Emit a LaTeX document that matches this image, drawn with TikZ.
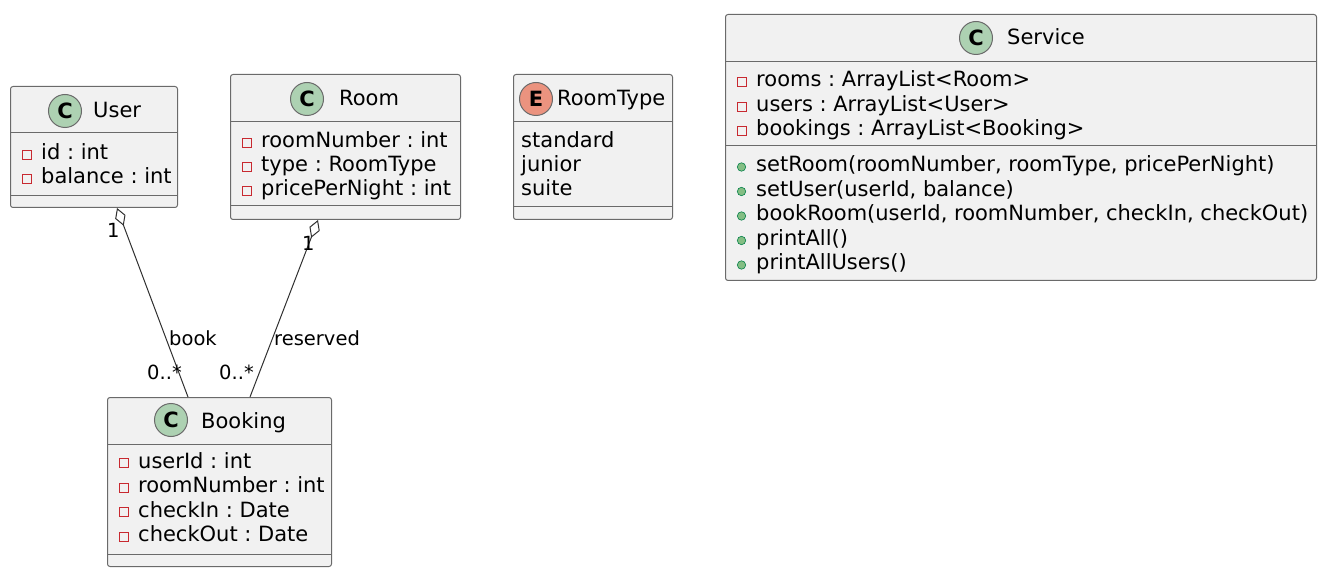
\documentclass[tikz,border=0pt]{standalone}
\usepackage{fontspec}
\setmainfont{DejaVu Sans}
\usetikzlibrary{arrows.meta,calc}
\definecolor{boxfill}{HTML}{F1F1F1}
\definecolor{boxline}{HTML}{6A6A6A}
\definecolor{connline}{HTML}{303030}
\definecolor{cgreen}{HTML}{ADD1B2}
\definecolor{eorange}{HTML}{EB937F}
\definecolor{privred}{HTML}{C82930}
\definecolor{pubgreen}{HTML}{84BE84}
\definecolor{publine}{HTML}{038048}
\frenchspacing
\newcommand\MemPriv[4]{%
  \draw[privred, line width=0.8pt] (#2+12,#3-9.5) rectangle (#2+21,#3-0.5);
  \node[mem] (#1) at (#2+31,#3) {#4};}
\newcommand\MemPub[4]{%
  \filldraw[fill=pubgreen, draw=publine, line width=0.6pt] (#2+16.5,#3-5) circle (4.2pt);
  \node[mem] (#1) at (#2+31,#3) {#4};}
\begin{document}
\begin{tikzpicture}[x=1pt,y=-1pt,
  classbox/.style={draw=boxline, fill=boxfill, line width=1pt, rounded corners=2.5pt, anchor=north west, inner sep=0},
  sep/.style={draw=boxline, line width=1pt},
  mem/.style={inner sep=0, anchor=base west, font=\fontsize{21}{24}\selectfont\frenchspacing},
  cname/.style={inner sep=0, anchor=base west, font=\fontsize{21}{24}\selectfont},
  lbl/.style={inner sep=0, anchor=base west, font=\fontsize{19.5}{22}\selectfont},
  badge/.style={circle, draw=boxline, line width=1pt, minimum size=33pt, inner sep=0, font=\fontsize{21}{21}\bfseries\selectfont},
  conn/.style={draw=connline, line width=1pt},
  agg/.style={conn, {Diamond[fill=white, length=19pt, width=11pt, line width=1pt]}-}
]
\useasboundingbox (0,0) rectangle (1330,585);

% ---------- User ----------
\node[classbox, minimum width=167pt, minimum height=121pt] (user) at (10,86) {};
\node[badge, fill=cgreen] (userC) at (65,111) {C};
\node[cname] (userN) at (93,118) {User};
\draw[sep] (user.west |- 0,133) -- (user.east |- 0,133);
\MemPriv{userA1}{10}{160}{id : int}
\MemPriv{userA2}{10}{184}{balance : int}
\draw[sep] (user.west |- 0,196) -- (user.east |- 0,196);

% ---------- Room ----------
\node[classbox, minimum width=230pt, minimum height=145pt] (room) at (230,74) {};
\node[badge, fill=cgreen] (roomC) at (307,99) {C};
\node[cname] (roomN) at (339,106) {Room};
\draw[sep] (room.west |- 0,122) -- (room.east |- 0,122);
\MemPriv{roomA1}{230}{147.5}{roomNumber : int}
\MemPriv{roomA2}{230}{172}{type : RoomType}
\MemPriv{roomA3}{230}{196}{pricePerNight : int}
\draw[sep] (room.west |- 0,206) -- (room.east |- 0,206);

% ---------- RoomType ----------
\node[classbox, minimum width=159pt, minimum height=145pt] (rtype) at (513,74) {};
\node[badge, fill=eorange] (rtypeE) at (536,99) {E};
\node[cname] (rtypeN) at (557,106) {RoomType};
\draw[sep] (rtype.west |- 0,122) -- (rtype.east |- 0,122);
\node[mem] (rtypeV1) at (521,147.5) {standard};
\node[mem] (rtypeV2) at (521,172) {junior};
\node[mem] (rtypeV3) at (521,196) {suite};
\draw[sep] (rtype.west |- 0,207) -- (rtype.east |- 0,207);

% ---------- Booking ----------
\node[classbox, minimum width=224pt, minimum height=169pt] (booking) at (107,397) {};
\node[badge, fill=cgreen] (bookingC) at (171,420) {C};
\node[cname] (bookingN) at (201,428) {Booking};
\draw[sep] (booking.west |- 0,444) -- (booking.east |- 0,444);
\MemPriv{bookingA1}{107}{468}{userId : int}
\MemPriv{bookingA2}{107}{492.5}{roomNumber : int}
\MemPriv{bookingA3}{107}{517}{checkIn : Date}
\MemPriv{bookingA4}{107}{541.5}{checkOut : Date}
\draw[sep] (booking.west |- 0,554) -- (booking.east |- 0,554);

% ---------- Service ----------
\node[classbox, minimum width=591pt, minimum height=266pt] (service) at (725,14) {};
\node[badge, fill=cgreen] (serviceC) at (976,38) {C};
\node[cname] (serviceN) at (1007,45) {Service};
\draw[sep] (service.west |- 0,62) -- (service.east |- 0,62);
\MemPriv{serviceA1}{725}{87}{rooms : ArrayList<Room>}
\MemPriv{serviceA2}{725}{111.5}{users : ArrayList<User>}
\MemPriv{serviceA3}{725}{136}{bookings : ArrayList<Booking>}
\draw[sep] (service.west |- 0,146) -- (service.east |- 0,146);
\MemPub{serviceM1}{725}{172}{setRoom(roomNumber, roomType, pricePerNight)}
\MemPub{serviceM2}{725}{196.5}{setUser(userId, balance)}
\MemPub{serviceM3}{725}{221}{bookRoom(userId, roomNumber, checkIn, checkOut)}
\MemPub{serviceM4}{725}{245.5}{printAll()}
\MemPub{serviceM5}{725}{270}{printAllUsers()}

% ---------- Connectors ----------
\coordinate (uEnd) at ($(user.south west)+(107,0)$);
\coordinate (bEndU) at ($(booking.north west)+(81,0)$);
\coordinate (rEnd) at ($(room.south west)+(88,0)$);
\coordinate (bEndR) at ($(booking.north west)+(143,0)$);
\draw[agg] (uEnd) -- (bEndU);
\draw[agg] (rEnd) -- (bEndR);

\node[lbl] (l1u) at (107,238) {1};
\node[lbl] (l1r) at (302,251) {1};
\node[lbl] (lbook) at (169,345) {book};
\node[lbl] (lres) at (274,345) {reserved};
\node[lbl] (lmu) at (147,379) {0..*};
\node[lbl] (lmr) at (219,379) {0..*};
\end{tikzpicture}
\end{document}
